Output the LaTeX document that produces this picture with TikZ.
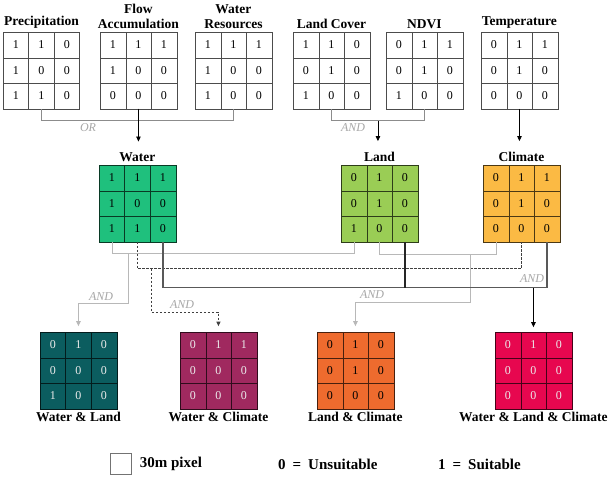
\documentclass[tikz,border=0pt]{standalone}
\usepackage{fontspec}
\setmainfont{Liberation Serif}
\usetikzlibrary{arrows.meta,positioning,calc,matrix}
\definecolor{watercol}{HTML}{1FC07D}
\definecolor{landcol}{HTML}{9ACD55}
\definecolor{climcol}{HTML}{FBBA44}
\definecolor{wlcol}{HTML}{0B5D5F}
\definecolor{wccol}{HTML}{A0295F}
\definecolor{lccol}{HTML}{EE6B2E}
\definecolor{wlccol}{HTML}{E7074F}
\tikzset{rastergrid/.style={matrix of nodes,anchor=north west,inner sep=0pt,outer sep=0pt,column sep=-\pgflinewidth,row sep=-\pgflinewidth,nodes={draw=#1!30!black,fill=#1,minimum size=25.5pt,inner sep=0pt,font=\fontsize{12}{13}\selectfont}},rastergrid/.default=white,rastertitle/.style={font=\bfseries\fontsize{13.5}{15}\selectfont,inner sep=0pt,align=center},rasterarr/.style={-{Triangle[width=4.5pt,length=5pt]},draw=black,line width=0.8pt},oprule/.style={draw=black!45,line width=0.7pt},lightrule/.style={draw=black!28,line width=0.9pt},dashrule/.style={draw=black!75,dashed,dash pattern=on 2.5pt off 1.5pt,line width=0.8pt},darkrule/.style={draw=black!65,line width=1.2pt},opname/.style={font=\itshape\fontsize{12}{13}\selectfont,text=black!35,inner sep=0pt},keytext/.style={font=\bfseries\fontsize{15}{16}\selectfont,inner sep=0pt,anchor=west}}
\begin{document}
\begin{tikzpicture}[x=1pt,y=-1pt]
\useasboundingbox (0,0) rectangle (611,477);
\matrix[rastergrid] (pre) at (3,32) {1&1&0\\1&0&0\\1&1&0\\};
\matrix[rastergrid] (flow) at (100,32) {1&1&1\\1&0&0\\0&0&0\\};
\matrix[rastergrid] (wres) at (195,32) {1&1&1\\1&0&0\\1&0&0\\};
\matrix[rastergrid] (lcov) at (293,32) {1&1&0\\0&1&0\\1&0&0\\};
\matrix[rastergrid] (ndvi) at (386,32) {0&1&1\\0&1&0\\1&0&0\\};
\matrix[rastergrid] (temp) at (481,32) {0&1&1\\0&1&0\\0&0&0\\};
\node[rastertitle,above=3pt of pre] (pret) {Precipitation};
\node[rastertitle,above=3pt of flow] (flowt) {Flow\\Accumulation};
\node[rastertitle,above=3pt of wres] (wrest) {Water\\Resources};
\node[rastertitle,above=3pt of lcov] (lcovt) {Land Cover};
\node[rastertitle,above=3pt of ndvi] (ndvit) {NDVI};
\node[rastertitle,above=3pt of temp] (tempt) {Temperature};
\matrix[rastergrid=watercol] (water) at (99,165) {1&1&1\\1&0&0\\1&1&0\\};
\matrix[rastergrid=landcol] (land) at (341,165) {0&1&0\\0&1&0\\1&0&0\\};
\matrix[rastergrid=climcol] (climate) at (483,165) {0&1&1\\0&1&0\\0&0&0\\};
\node[rastertitle,above=3pt of water] (watert) {Water};
\node[rastertitle,above=3pt of land] (landt) {Land};
\node[rastertitle,above=3pt of climate] (climatet) {Climate};
\matrix[rastergrid=wlcol,nodes={text=white!92!black}] (wl) at (40,332) {0&1&0\\0&0&0\\1&0&0\\};
\matrix[rastergrid=wccol,nodes={text=white!92!black}] (wc) at (180,332) {0&1&1\\0&0&0\\0&0&0\\};
\matrix[rastergrid=lccol] (lc) at (317,332) {0&1&0\\0&1&0\\0&0&0\\};
\matrix[rastergrid=wlccol,nodes={text=white!92!black}] (wlc) at (495,332) {0&1&0\\0&0&0\\0&0&0\\};
\node[rastertitle,below=3pt of wl] (wlt) {Water \& Land};
\node[rastertitle,below=3pt of wc] (wct) {Water \& Climate};
\node[rastertitle,below=3pt of lc] (lct) {Land \& Climate};
\node[rastertitle,below=3pt of wlc] (wlct) {Water \& Land \& Climate};
\draw[oprule] (pre-3-2.south) -- ++(0,12) -| (wres-3-2.south);
\draw[rasterarr,shorten >=11pt] (flow-3-2.south) -- (flow-3-2.south |- watert.north);
\node[opname] (orop) at (88,128) {OR};
\draw[oprule] (lcov-3-2.south) -- ++(0,12) -| (ndvi-3-2.south);
\coordinate (landjoin) at ($(lcov-3-2.south)!0.5!(ndvi-3-2.south)+(0,12)$);
\draw[rasterarr,shorten >=11pt] (landjoin) -- (landjoin |- landt.north);
\node[opname] (landop) at (353,128) {AND};
\draw[rasterarr,shorten >=11pt] (temp-3-2.south) -- (temp-3-2.south |- climatet.north);
\draw[lightrule] (water-3-1.south) -- ++(0,12) -| (land-3-1.south);
\coordinate (wlfork) at ($(water-3-1.south)+(16,12)$);
\draw[lightrule,-{Triangle[width=4.5pt,length=5pt]},shorten >=6pt] (wlfork) |- ($(wl-1-2.north)+(0,-29)$) -- (wl-1-2.north);
\node[opname] (wlop) at (101,297) {AND};
\draw[dashrule] (water-3-2.south) -- ++(0,27) -| (climate-3-2.south);
\coordinate (wcfork) at ($(water-3-2.south)+(14,27)$);
\draw[dashrule,-{Triangle[width=4pt,length=4.5pt]},shorten >=6pt] (wcfork) |- ($(wc-1-2.north)+(0,-20)$) -- (wc-1-2.north);
\node[opname] (wcop) at (182,305) {AND};
\draw[lightrule] (land-3-2.south) -- ++(0,13) -| (climate-3-1.south);
\coordinate (lcfork) at ($(land-3-2.south)+(91,13)$);
\draw[lightrule,-{Triangle[width=4.5pt,length=5pt]},shorten >=6pt] (lcfork) |- ($(lc-1-2.north)+(0,-30)$) -- (lc-1-2.north);
\node[opname] (lcop) at (372,295) {AND};
\draw[darkrule] (water-3-3.south) -- ++(0,46) -| (climate-3-3.south);
\coordinate (wlcbar) at ($(water-3-3.south)+(0,46)$);
\draw[darkrule,draw=black!85] (land-3-3.south) -- (land-3-3.south |- wlcbar);
\draw[rasterarr,shorten >=5pt] (wlc-1-2.north |- wlcbar) -- (wlc-1-2.north);
\node[opname] (wlcop) at (532,279) {AND};
\node[draw=black!55,minimum size=21pt,inner sep=0pt] (pixkey) at (121,463.5) {};
\node[keytext,right=8pt of pixkey] (pixtext) {30m pixel};
\node[keytext] (zerokey) at (278,464) {0\hspace{7pt}=\hspace{7pt}Unsuitable};
\node[keytext] (onekey) at (438,464) {1\hspace{7pt}=\hspace{7pt}Suitable};
\end{tikzpicture}
\end{document}
